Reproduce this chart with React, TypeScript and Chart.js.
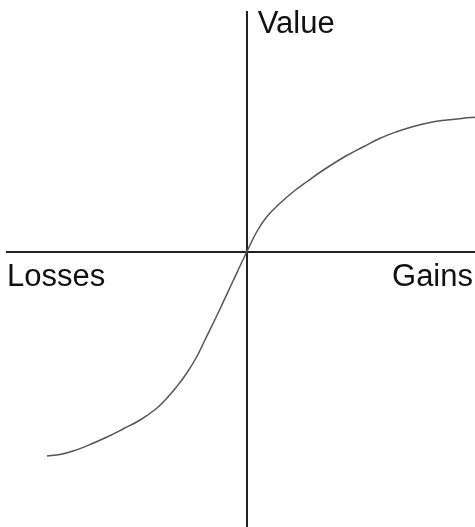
import React, { useEffect, useRef } from "react";
import { Chart, registerables } from "chart.js";

Chart.register(...registerables);

// Outcome (losses < 0 < gains) and subjective value
const outcomes = [
  -87.5, -81.8, -76.1, -68.6, -61.2, -54.2, -46.7, -39.4, -35.0, -30.7, -26.3, -21.9, -18.3, -11.7, -6.0,
  0, 4.4, 8.8, 14.6, 20.4, 26.3, 33.6, 43.8, 51.1, 58.4, 65.7, 73.0, 80.3, 87.6, 94.9, 100,
];
const values = [
  -81.6, -81.0, -79.6, -77.0, -74.0, -70.8, -67.2, -62.5, -58.5, -53.9, -48.5, -41.9, -35.2, -22.8, -11.6,
  0, 8.1, 14.1, 19.5, 24.1, 28.1, 32.8, 38.6, 42.1, 45.5, 48.1, 50.2, 51.8, 52.8, 53.5, 53.9,
];

const xRange = [-105, 100];
const yRange = [-110, 96];

const axisLabels = { value: "Value", losses: "Losses", gains: "Gains" };

export default function App() {
  const ref = useRef<HTMLCanvasElement | null>(null);

  useEffect(() => {
    if (!ref.current) return;
    const labelPlugin = {
      id: "axisLabels",
      afterDraw(chart: any) {
        const { ctx } = chart;
        const xs = chart.scales.x;
        const ys = chart.scales.y;
        const ox = xs.getPixelForValue(0);
        const oy = ys.getPixelForValue(0);
        ctx.save();
        ctx.fillStyle = "#111";
        ctx.font = "31px 'Liberation Sans', Arial, sans-serif";
        ctx.textBaseline = "alphabetic";
        ctx.textAlign = "left";
        ctx.fillText(axisLabels.value, ox + 11, 33);
        ctx.fillText(axisLabels.losses, xs.left, oy + 34);
        ctx.textAlign = "right";
        ctx.fillText(axisLabels.gains, xs.right - 2, oy + 34);
        ctx.restore();
      },
    };

    const chart = new Chart(ref.current, {
      type: "scatter",
      data: {
        datasets: [
          {
            data: outcomes.map((x, i) => ({ x, y: values[i] })),
            showLine: true,
            borderColor: "#555",
            borderWidth: 1.5,
            pointRadius: 0,
            tension: 0.4,
          },
        ],
      },
      options: {
        animation: false,
        responsive: false,
        layout: { padding: { left: 7, top: 12, right: 0, bottom: 0 } },
        plugins: { legend: { display: false }, tooltip: { enabled: false } },
        scales: {
          x: {
            type: "linear",
            min: xRange[0],
            max: xRange[1],
            position: { y: 0 } as any,
            ticks: { display: false },
            grid: { display: false, drawTicks: false },
            border: { display: true, color: "#222", width: 2 },
          },
          y: {
            type: "linear",
            min: yRange[0],
            max: yRange[1],
            position: { x: 0 } as any,
            ticks: { display: false },
            grid: { display: false, drawTicks: false },
            border: { display: true, color: "#222", width: 2 },
          },
        },
      },
      plugins: [labelPlugin],
    });
    return () => chart.destroy();
  }, []);

  return (
    <div style={{ position: "absolute", left: 0, top: 0, width: 475, height: 527, background: "#fff" }}>
      <canvas ref={ref} width={475} height={527} style={{ display: "block" }} />
    </div>
  );
}
